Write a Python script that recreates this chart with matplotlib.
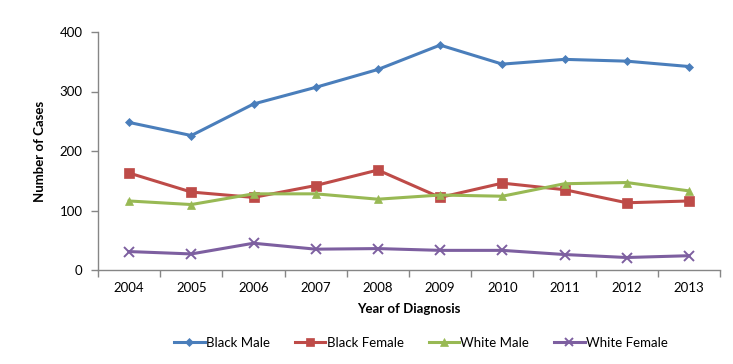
import matplotlib
matplotlib.use("Agg")
import matplotlib.pyplot as plt
import numpy as np

years = ["2004", "2005", "2006", "2007", "2008", "2009", "2010", "2011", "2012", "2013"]
black_male = [248, 226, 279, 307, 337, 378, 346, 354, 351, 342]
black_female = [163, 131, 122, 142, 168, 122, 146, 135, 113, 116]
white_male = [116, 110, 128, 128, 119, 126, 124, 145, 147, 133]
white_female = [31, 27, 45, 35, 36, 33, 33, 26, 21, 24]

series_names = ["Black Male", "Black Female", "White Male", "White Female"]
colors = ["#4A7EBB", "#BE4B48", "#98B954", "#7D5FA0"]
markers = ["D", "s", "^", "x"]
msizes = [4.5, 6.5, 6, 6.5]

plt.rcParams['font.family'] = ['Lato', 'DejaVu Sans']

fig = plt.figure(figsize=(7.33, 3.64), dpi=100)
ax = fig.add_axes([98/733, 1-270/364, (720-98)/733, (270-32)/364])

x = np.arange(len(years))
for vals, name, c, m, ms in zip([black_male, black_female, white_male, white_female],
                                series_names, colors, markers, msizes):
    ax.plot(x, vals, color=c, lw=2.2, marker=m, markersize=ms,
            markeredgewidth=1.4 if m == "x" else 0.5, markeredgecolor=c,
            label=name, clip_on=False)

ax.set_xlim(-0.5, len(years) - 0.5)
ax.set_ylim(0, 400)
ax.set_yticks([0, 100, 200, 300, 400])
ax.set_xticks(x)
ax.set_xticklabels(years)
ax.set_xticks(np.arange(-0.5, len(years) + 0.5, 1), minor=True)
ax.tick_params(axis='x', which='major', length=0, pad=9, labelsize=9.5)
ax.tick_params(axis='x', which='minor', length=5, color="#868686", width=1, direction='out')
ax.tick_params(axis='y', length=5, color="#868686", width=1, direction='out', labelsize=9.5, pad=6)

for s in ["top", "right"]:
    ax.spines[s].set_visible(False)
for s in ["left", "bottom"]:
    ax.spines[s].set_color("#868686")
    ax.spines[s].set_linewidth(1)

ax.set_xlabel("Year of Diagnosis", fontsize=9.5, fontweight='bold', labelpad=6)
ax.set_ylabel("Number of Cases", fontsize=9.5, fontweight='bold', labelpad=10)

leg = fig.legend(loc='center', bbox_to_anchor=(421/733, 1-343/364), ncol=4, frameon=False,
                 fontsize=9.5, handlelength=2.3, columnspacing=1.9, handletextpad=0.1,
                 markerscale=0.85)

fig.savefig("out.png", dpi=100)
